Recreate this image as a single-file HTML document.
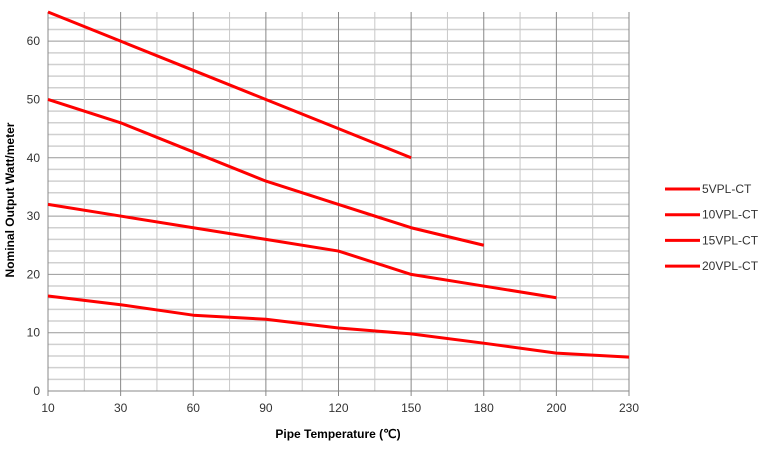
<!DOCTYPE html>
<html><head><meta charset="utf-8"><style>body{margin:0;background:#fff}svg{display:block;font-family:"Liberation Sans",sans-serif}</style></head>
<body>
<svg id="c" width="760" height="449"></svg>
<script>
const categories=[10,30,60,90,120,150,180,200,230];
const yTicks=[0,10,20,30,40,50,60];
const seriesNames=["5VPL-CT","10VPL-CT","15VPL-CT","20VPL-CT"];
const s5=[65,60,55,50,45,40];
const s10=[50,46,41,36,32,28,25];
const s15=[32,30,28,26,24,20,18,16];
const s20=[16.3,14.8,13,12.3,10.8,9.8,8.2,6.5,5.8];
const series=[s5,s10,s15,s20];
const L=48,R=629,T=12,B=391,YMAX=65;
const svg=document.getElementById('c');const NS='http://www.w3.org/2000/svg';
const step=(R-L)/(categories.length-1);
const x=i=>L+i*step, y=v=>B-v/YMAX*(B-T);
function mk(t,a,p){const e=document.createElementNS(NS,t);for(const k in a)e.setAttribute(k,a[k]);(p||svg).appendChild(e);return e;}
for(let v=2;v<=YMAX;v+=2){const l=mk('line',{x1:L,x2:R,y1:y(v),y2:y(v),stroke:v%10==0?'#999':'#d0d0d0','stroke-width':v%10==0?1:1.5});

}
for(let i=0;i<categories.length-0.5;i+=0.5){const l=mk('line',{x1:x(i),x2:x(i),y1:T,y2:B+(i%1==0?5:0),stroke:i%1==0?'#888':'#c8c8c8'});

}
mk('line',{x1:L,x2:R,y1:B,y2:B,stroke:'#888'});
mk('line',{x1:L,x2:L,y1:T,y2:B,stroke:'#888'});
yTicks.forEach(v=>{const t=mk('text',{x:L-8,y:y(v)+4,'text-anchor':'end','font-size':12,fill:'#333'});t.textContent=v;

});
categories.forEach((c,i)=>{const t=mk('text',{x:x(i),y:412,'text-anchor':'middle','font-size':12,fill:'#333'});t.textContent=c;

});
series.forEach((s,k)=>{const p=mk('polyline',{points:s.map((v,i)=>x(i)+','+y(v)).join(' '),fill:'none',stroke:'#f00','stroke-width':3,'stroke-linejoin':'round'});


const ly=189+k*25.7;
const g=mk('g',{});


mk('line',{x1:665,x2:700,y1:ly,y2:ly,stroke:'#f00','stroke-width':3},g);
const t=mk('text',{x:702,y:ly+4,'font-size':12,fill:'#333'},g);t.textContent=seriesNames[k];});
const xt=mk('text',{x:338,y:438,'text-anchor':'middle','font-size':12,'font-weight':'bold',fill:'#000'});xt.textContent='Pipe Temperature (℃)';


const yt=mk('text',{x:0,y:0,'text-anchor':'middle','font-size':12,'font-weight':'bold',fill:'#000',transform:'translate(14,200) rotate(-90)'});yt.textContent='Nominal Output Watt/meter';


</script>
</body></html>
